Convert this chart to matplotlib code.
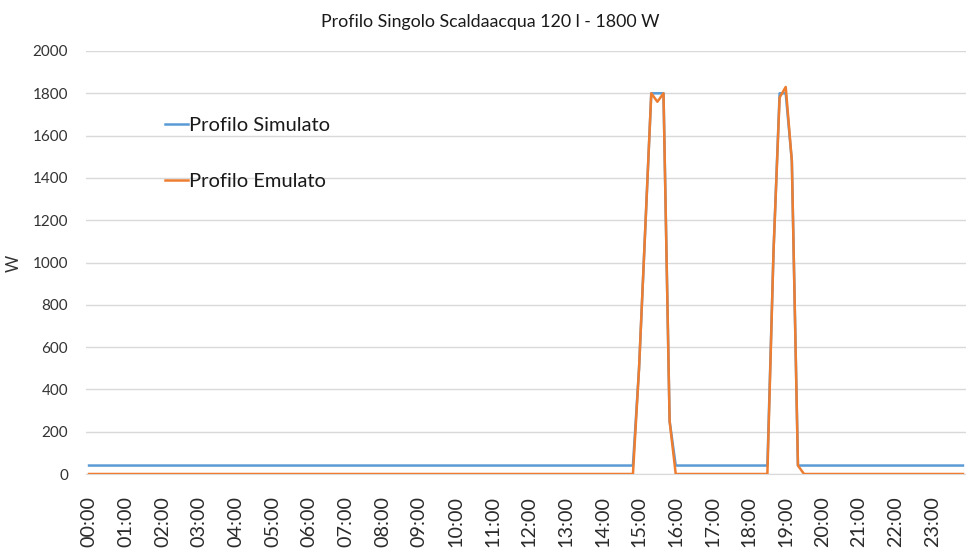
import matplotlib
matplotlib.use('Agg')
import matplotlib.pyplot as plt

# 10-minute readings, only the points where the profile changes
sim_times = ['00:00', '14:50', '15:00', '15:10', '15:20', '15:30', '15:40', '15:50', '16:00',
             '18:30', '18:40', '18:50', '19:00', '19:10', '19:20', '23:50']
sim_watts = [40, 40, 500, 1150, 1800, 1800, 1800, 250, 40,
             40, 1050, 1800, 1800, 1480, 40, 40]

emu_times = ['00:00', '14:50', '15:00', '15:10', '15:20', '15:30', '15:40', '15:50', '16:00',
             '18:30', '18:40', '18:50', '19:00', '19:10', '19:20', '19:30', '23:50']
emu_watts = [0, 0, 500, 1150, 1800, 1760, 1800, 250, 0,
             0, 1050, 1780, 1830, 1480, 40, 0, 0]

hours = list(range(24))
hour_labels = ['%02d:00' % h for h in hours]
y_ticks = list(range(0, 2001, 200))


def to_hours(stamps):
    out = []
    for s in stamps:
        hh, mm = s.split(':')
        out.append(int(hh) + int(mm) / 60.0)
    return out


plt.rcParams['font.family'] = ['Lato', 'DejaVu Sans']

fig = plt.figure(figsize=(9.66, 5.52), dpi=100)
ax = fig.add_axes([86 / 966, 1 - 474 / 552, 880 / 966, 423 / 552])

ax.plot(to_hours(sim_times), sim_watts, color='#5B9BD5', lw=1.8, label='Profilo Simulato', zorder=3)
ax.plot(to_hours(emu_times), emu_watts, color='#ED7D31', lw=1.8, label='Profilo Emulato', zorder=4)

ax.set_xlim(-5 / 60, 23 + 55 / 60)
ax.set_ylim(0, 2000)
ax.set_yticks(y_ticks)
ax.set_xticks(hours)
ax.set_xticklabels(hour_labels, rotation=90, fontsize=14.2, color='#2b2b2b')
ax.tick_params(axis='x', length=0, pad=16)
ax.tick_params(axis='y', length=0, pad=13, labelsize=11, labelcolor='#333333')
ax.grid(axis='y', color='#d9d9d9', lw=1)
ax.set_axisbelow(True)
for side in ['top', 'right', 'left']:
    ax.spines[side].set_visible(False)
ax.spines['bottom'].set_color('#d9d9d9')

fig.text(14 / 966, 1 - 263 / 552, 'W', rotation=90, fontsize=12, color='#333333',
         ha='center', va='center')
fig.text(490 / 966, 1 - 22 / 552, 'Profilo Singolo Scaldaacqua 120 l - 1800 W',
         fontsize=12.8, color='#1a1a1a', ha='center', va='center')

fig.legend(loc='upper left', bbox_to_anchor=(165 / 966, 1 - 117 / 552), frameon=False,
           fontsize=14.5, handlelength=1.15, handletextpad=0.05, labelspacing=1.92,
           borderpad=0, borderaxespad=0, labelcolor='#1a1a1a')

plt.savefig('out.png', dpi=100, facecolor='w')
